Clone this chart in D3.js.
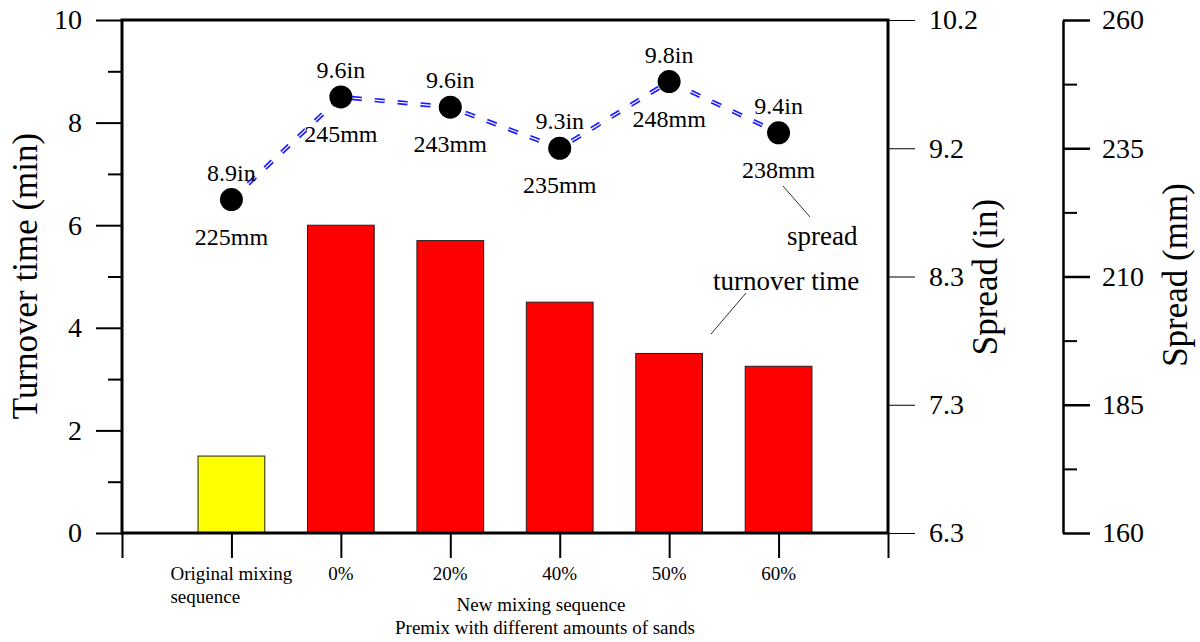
<!DOCTYPE html>
<html>
<head>
<meta charset="utf-8">
<script src="https://cdn.jsdelivr.net/npm/d3@7"></script>
<style>
  html, body { margin: 0; padding: 0; background: #fff; }
  svg { display: block; }
  svg text { font-family: "Liberation Serif", "DejaVu Serif", serif !important; }
</style>
</head>
<body>
<svg id="chart" width="1200" height="642" font-family="Liberation Serif"></svg>
<script>
// ---- data ----
const categories = ["Original mixing\nsequence", "0%", "20%", "40%", "50%", "60%"];
const turnoverTime = [1.5, 6.0, 5.7, 4.5, 3.5, 3.25];
const barColors = ["#ffff00", "#ff0000", "#ff0000", "#ff0000", "#ff0000", "#ff0000"];
const spreadMM = [225, 245, 243, 235, 248, 238];
const spreadInLabels = ["8.9in", "9.6in", "9.6in", "9.3in", "9.8in", "9.4in"];
const spreadMMLabels = ["225mm", "245mm", "243mm", "235mm", "248mm", "238mm"];
const leftTicks = [0, 2, 4, 6, 8, 10];
const leftMinorTicks = [1, 3, 5, 7, 9];
const mmTicks = [160, 185, 210, 235, 260];
const mmMinorTicks = [172.5, 197.5, 222.5, 247.5];
const inTickLabels = ["6.3", "7.3", "8.3", "9.2", "10.2"];

// ---- layout ----
const FONT = "Liberation Serif";
const L = 122, R = 888, T = 20, B = 533;
const svg = d3.select("#chart");

const x = d3.scaleLinear().domain([0, categories.length + 1]).range([L, R]);
const yL = d3.scaleLinear().domain([0, 10]).range([B, T]);
const yMM = d3.scaleLinear().domain([160, 260]).range([B, T]);
const band = x(1) - x(0);
const barW = band * 0.61;

function txt(sel) { return sel.attr("font-family", FONT).attr("fill", "#000"); }

// ---- bars ----
svg.append("g").selectAll("rect").data(turnoverTime).join("rect")
  .attr("x", (d, i) => x(i + 1) - barW / 2)
  .attr("y", d => yL(d))
  .attr("width", barW)
  .attr("height", d => yL(0) - yL(d))
  .attr("fill", (d, i) => barColors[i])
  .attr("stroke", "#222")
  .attr("stroke-width", 1);

// ---- left axis ----
const gL = svg.append("g").attr("transform", `translate(${L},0)`)
  .call(d3.axisLeft(yL).tickValues(leftTicks).tickSize(26).tickPadding(14).tickFormat(d3.format("d")));
gL.attr("font-family", FONT);
gL.select(".domain").remove();
gL.selectAll("line").attr("stroke", "#000").attr("stroke-width", 2);
txt(gL.selectAll("text")).attr("font-size", 28);
const gLm = svg.append("g").attr("transform", `translate(${L},0)`)
  .call(d3.axisLeft(yL).tickValues(leftMinorTicks).tickSize(14).tickFormat(""));
gLm.select(".domain").remove();
gLm.selectAll("line").attr("stroke", "#000").attr("stroke-width", 2);

// ---- bottom axis ticks ----
const gB = svg.append("g").attr("transform", `translate(0,${B})`)
  .call(d3.axisBottom(x).tickValues(d3.range(0, categories.length + 2)).tickSize(25).tickFormat(""));
gB.select(".domain").remove();
gB.selectAll("line").attr("stroke", "#000").attr("stroke-width", 2);

// category labels
const catG = svg.append("g").attr("font-size", 19).attr("font-family", FONT).attr("fill", "#000");
categories.forEach((c, i) => {
  const lines = c.split("\n");
  const t = txt(catG.append("text")).attr("y", 580).attr("font-size", 19);
  if (lines.length === 1) {
    t.attr("x", x(i + 1)).attr("text-anchor", "middle").text(c);
  } else {
    t.append("tspan").attr("x", 0).attr("dy", 0).text(lines[0]);
    const w = t.node().getComputedTextLength();
    t.select("tspan").attr("x", x(i + 1) - w / 2);
    lines.slice(1).forEach(l => t.append("tspan").attr("x", x(i + 1) - w / 2).attr("dy", 23).text(l));
  }
});
txt(svg.append("text")).attr("x", 541).attr("y", 611).attr("text-anchor", "middle")
  .attr("font-size", 19).text("New mixing sequence");
txt(svg.append("text")).attr("x", 545).attr("y", 634).attr("text-anchor", "middle")
  .attr("font-size", 19).text("Premix with different amounts of sands");

// ---- frame ----
svg.append("rect").attr("x", L).attr("y", T).attr("width", R - L).attr("height", B - T)
  .attr("fill", "none").attr("stroke", "#000").attr("stroke-width", 3);

// ---- right axis (in) ----
const gIn = svg.append("g").attr("transform", `translate(${R + 1},0)`)
  .call(d3.axisRight(yMM).tickValues(mmTicks).tickSize(26).tickPadding(14)
    .tickFormat((d, i) => inTickLabels[i]));
gIn.attr("font-family", FONT);
gIn.select(".domain").remove();
gIn.selectAll("line").attr("stroke", "#000").attr("stroke-width", 1);
txt(gIn.selectAll("text")).attr("font-size", 28);

// ---- far right axis (mm) ----
const gMM = svg.append("g").attr("transform", "translate(1063,0)")
  .call(d3.axisRight(yMM).tickValues(mmTicks).tickSize(27).tickSizeOuter(0).tickPadding(12)
    .tickFormat(d3.format("d")));
gMM.attr("font-family", FONT);
gMM.select(".domain").attr("stroke", "#000").attr("stroke-width", 2.5);
gMM.selectAll("line").attr("stroke", "#000").attr("stroke-width", 2.5);
txt(gMM.selectAll("text")).attr("font-size", 28);
const gMMm = svg.append("g").attr("transform", "translate(1063,0)")
  .call(d3.axisRight(yMM).tickValues(mmMinorTicks).tickSize(14).tickFormat(""));
gMMm.select(".domain").remove();
gMMm.selectAll("line").attr("stroke", "#000").attr("stroke-width", 2);

// ---- axis titles ----
txt(svg.append("text")).attr("transform", "translate(37,276) rotate(-90)")
  .attr("text-anchor", "middle").attr("font-size", 35).text("Turnover time (min)");
txt(svg.append("text")).attr("transform", "translate(997,277) rotate(-90)")
  .attr("text-anchor", "middle").attr("font-size", 35).text("Spread (in)");
txt(svg.append("text")).attr("transform", "translate(1187,275) rotate(-90)")
  .attr("text-anchor", "middle").attr("font-size", 35).text("Spread (mm)");

// ---- spread line ----
const line = d3.line().x((d, i) => x(i + 1)).y(d => yMM(d));
svg.append("path").datum(spreadMM).attr("d", line)
  .attr("fill", "none").attr("stroke", "#1a1aff").attr("stroke-width", 4.5)
  .attr("stroke-dasharray", "10,13");
svg.append("path").datum(spreadMM).attr("d", line)
  .attr("fill", "none").attr("stroke", "#fff").attr("stroke-width", 1.2)
  .attr("stroke-dasharray", "10,13");
svg.append("g").selectAll("circle").data(spreadMM).join("circle")
  .attr("cx", (d, i) => x(i + 1)).attr("cy", d => yMM(d)).attr("r", 11.5).attr("fill", "#000");

// point labels
const lbl = svg.append("g").attr("font-size", 24).attr("font-family", FONT).attr("text-anchor", "middle");
txt(lbl.selectAll("text.in").data(spreadMM).join("text").attr("class", "in"))
  .attr("font-size", 24)
  .attr("x", (d, i) => x(i + 1)).attr("y", d => yMM(d) - 19).text((d, i) => spreadInLabels[i]);
txt(lbl.selectAll("text.mm").data(spreadMM).join("text").attr("class", "mm"))
  .attr("font-size", 24)
  .attr("x", (d, i) => x(i + 1)).attr("y", d => yMM(d) + 45).text((d, i) => spreadMMLabels[i]);

// ---- annotations ----
svg.append("line").attr("x1", 783).attr("y1", 186).attr("x2", 810).attr("y2", 217)
  .attr("stroke", "#333").attr("stroke-width", 1);
txt(svg.append("text")).attr("x", 787).attr("y", 245).attr("font-size", 27).text("spread");
svg.append("line").attr("x1", 746).attr("y1", 293).attr("x2", 711).attr("y2", 334)
  .attr("stroke", "#333").attr("stroke-width", 1);
txt(svg.append("text")).attr("x", 713).attr("y", 290).attr("font-size", 27).text("turnover time");
</script>
</body>
</html>
